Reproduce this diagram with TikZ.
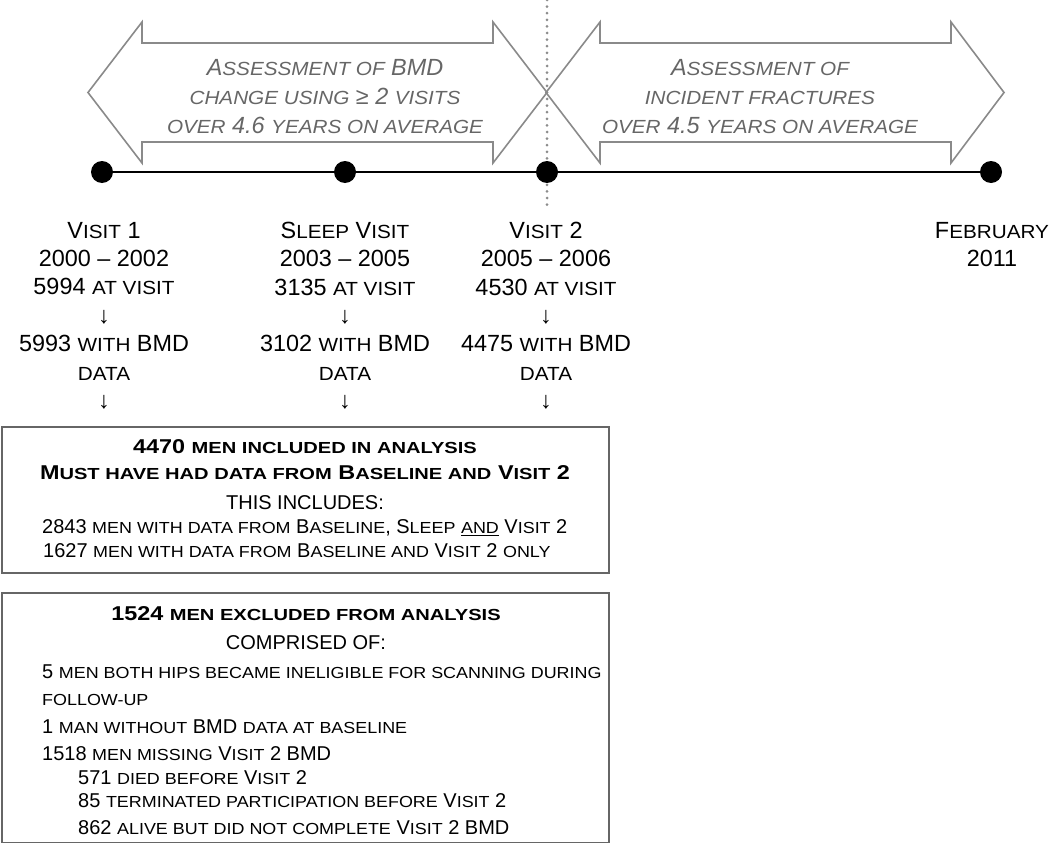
\documentclass[tikz,border=0pt]{standalone}
\usepackage{fontspec}
\setmainfont{Liberation Sans}[BoldFeatures={FakeStretch=1.17}]
\newfontfamily\scfA{Liberation Sans}[FakeStretch=1.09, BoldFeatures={FakeStretch=1.2}]
\newfontfamily\scfB{Liberation Sans}[FakeStretch=1.12, BoldFeatures={FakeStretch=1.256}]
\definecolor{arrgray}{HTML}{8A8A8A}
\definecolor{txtgray}{HTML}{666666}
\definecolor{boxgray}{HTML}{666666}
\definecolor{dotgray}{HTML}{8C8C8C}
\newcommand\sA[1]{{\scfA\fontsize{19}{20}\selectfont #1}}
\newcommand\sB[1]{{\scfB\fontsize{16}{18}\selectfont #1}}
\tikzset{
  bigarrow/.style={draw=arrgray, line width=1.6pt, line join=miter},
  arrtext/.style={text=txtgray, font=\fontsize{23.4}{29}\selectfont\itshape, align=center, anchor=north, inner sep=0pt},
  coltext/.style={font=\fontsize{23.4}{28.4}\selectfont, align=center, anchor=north, inner sep=0pt},
  tdot/.style={circle, fill=black, minimum size=22pt, inner sep=0pt},
  tline/.style={line width=2pt, black},
  vdots/.style={draw=dotgray, line width=3pt, line cap=round, dash pattern=on 0pt off 6.6pt},
  infobox/.style={draw=boxgray, line width=1.5pt, inner sep=0pt},
  bline/.style={font=\fontsize{20}{24}\selectfont, anchor=base, inner sep=0pt},
  bbold/.style={bline, font=\fontsize{20}{24}\selectfont\bfseries},
  bleft/.style={bline, anchor=base west},
}
\begin{document}
\begin{tikzpicture}[x=1pt,y=-1pt]
\useasboundingbox (0,0) rectangle (1050,843);
% dotted divider
\coordinate (vtop) at (547,0);
\coordinate (vbot) at (547,206);
\draw[vdots] (vtop) -- (vbot);
% big double arrows
\draw[bigarrow] (88,92.5) -- (142,22) -- (142,43) -- (493,43) -- (493,22) -- (547,92.5)
  -- (493,163) -- (493,142) -- (142,142) -- (142,163) -- cycle;
\draw[bigarrow] (546,92.5) -- (600,22) -- (600,43) -- (951,43) -- (951,22) -- (1004,92.5)
  -- (951,163) -- (951,142) -- (600,142) -- (600,163) -- cycle;
\node[arrtext] (a1) at (325,58.8) {A\sA{SSESSMENT OF} BMD\\ \sA{CHANGE USING} ≥ 2 \sA{VISITS}\\ \sA{OVER} 4.6 \sA{YEARS ON AVERAGE}};
\node[arrtext] (a2) at (760,58.8) {A\sA{SSESSMENT OF}\\ \sA{INCIDENT FRACTURES}\\ \sA{OVER} 4.5 \sA{YEARS ON AVERAGE}};
% timeline
\node[tdot] (d1) at (102,172) {};
\node[tdot] (d2) at (345,172) {};
\node[tdot] (d3) at (547,172) {};
\node[tdot] (d4) at (991,172) {};
\draw[tline] (d1) -- (d2);
\draw[tline] (d2) -- (d3);
\draw[tline] (d3) -- (d4);
% columns
\node[coltext] (c1) at (104,221.8) {V\sA{ISIT} 1\\ 2000 – 2002\\ 5994 \sA{AT VISIT}\\ ↓\\ 5993 \sA{WITH} BMD\\ \sA{DATA}\\ ↓};
\node[coltext] (c2) at (345,221.8) {S\sA{LEEP} V\sA{ISIT}\\ 2003 – 2005\\ 3135 \sA{AT VISIT}\\ ↓\\ 3102 \sA{WITH} BMD\\ \sA{DATA}\\ ↓};
\node[coltext] (c3) at (546,221.8) {V\sA{ISIT} 2\\ 2005 – 2006\\ 4530 \sA{AT VISIT}\\ ↓\\ 4475 \sA{WITH} BMD\\ \sA{DATA}\\ ↓};
\node[coltext] (c4) at (992,221.8) {F\sA{EBRUARY}\\ 2011};
% box 1
\node[infobox, minimum width=607pt, minimum height=146pt, anchor=north west] (box1) at (1,426) {};
\node[bbold] (b1a) at (305,453) {4470 \sB{MEN INCLUDED IN ANALYSIS}};
\node[bbold] (b1b) at (305,479.5) {M\sB{UST HAVE HAD DATA FROM} B\sB{ASELINE AND} V\sB{ISIT} 2};
\node[bline] (b1c) at (305,509.5) {THIS INCLUDES:};
\node[bleft] (b1d) at (42,533.5) {2843 \sB{MEN WITH DATA FROM} B\sB{ASELINE}, S\sB{LEEP} \underline{\sB{AND}} V\sB{ISIT} 2};
\node[bleft] (b1e) at (43,557) {1627 \sB{MEN WITH DATA FROM} B\sB{ASELINE AND} V\sB{ISIT} 2 \sB{ONLY}};
% box 2
\node[infobox, minimum width=607pt, minimum height=250pt, anchor=north west] (box2) at (1,592) {};
\node[bbold] (b2a) at (306,620) {1524 \sB{MEN EXCLUDED FROM ANALYSIS}};
\node[bline] (b2b) at (306,649.5) {COMPRISED OF:};
\node[bleft] (b2c) at (42,678) {5 \sB{MEN BOTH HIPS BECAME INELIGIBLE FOR SCANNING DURING}};
\node[bleft] (b2d) at (42,705) {\sB{FOLLOW-UP}};
\node[bleft] (b2e) at (42,733) {1 \sB{MAN WITHOUT} BMD \sB{DATA AT BASELINE}};
\node[bleft] (b2f) at (42,760.5) {1518 \sB{MEN MISSING} V\sB{ISIT} 2 BMD};
\node[bleft] (b2g) at (78,784) {571 \sB{DIED BEFORE} V\sB{ISIT} 2};
\node[bleft] (b2h) at (78,807) {85 \sB{TERMINATED PARTICIPATION BEFORE} V\sB{ISIT} 2};
\node[bleft] (b2i) at (78,834) {862 \sB{ALIVE BUT DID NOT COMPLETE} V\sB{ISIT} 2 BMD};
\end{tikzpicture}
\end{document}
